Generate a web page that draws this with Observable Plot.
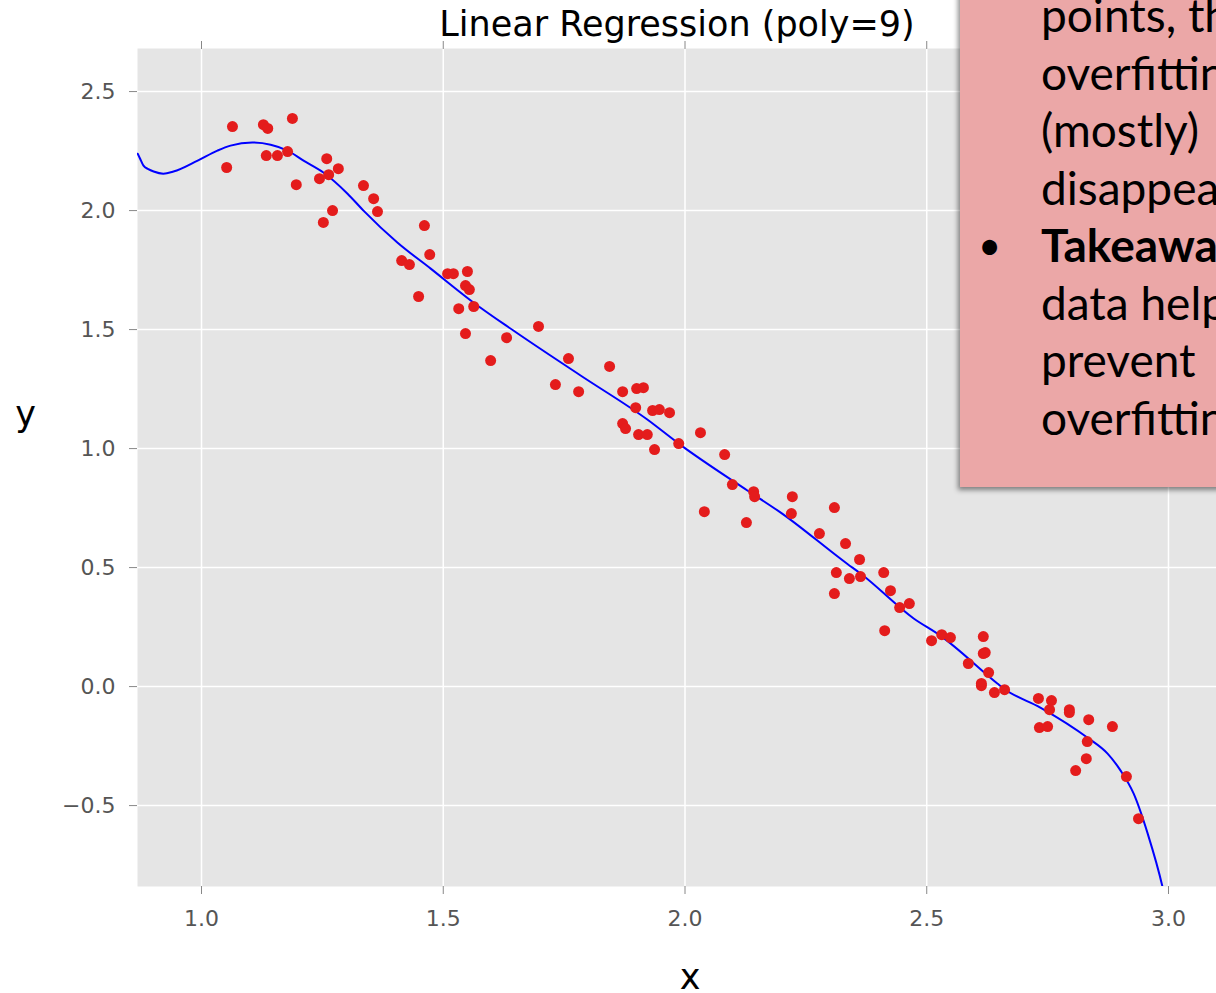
<!DOCTYPE html>
<html>
<head>
<meta charset="utf-8">
<script src="https://cdn.jsdelivr.net/npm/d3@7"></script>
<script src="https://cdn.jsdelivr.net/npm/@observablehq/plot@0.6"></script>
<style>
  html, body { margin: 0; padding: 0; background: #fff; overflow: hidden; }
  #wrap { position: relative; width: 1216px; height: 993px; overflow: hidden; }
  #note {
    position: absolute; left: 960px; top: -60px; width: 320px; height: 547px;
    background: #eba7a7; box-shadow: -2px 3px 5px rgba(0,0,0,0.45);
    font-family: Lato, "Noto Sans", sans-serif; font-size: 46px; color: #000;
  }
  #note .line { position: absolute; left: 81px; white-space: nowrap; }
  #note .bullet { position: absolute; left: 18px; width: 20px; text-align: center; font-size: 40px; white-space: nowrap; }
</style>
</head>
<body>
<div id="wrap"></div>
<script>
// Observed samples
const pointX = [1.052,1.064,1.128,1.137,1.134,1.157,1.188,1.178,1.196,1.244,1.259,1.263,1.283,1.252,1.271,1.335,1.356,1.364,1.461,1.414,
  1.430,1.472,1.449,1.509,1.521,1.550,1.546,1.554,1.532,1.563,1.546,1.598,1.631,1.697,1.732,1.759,1.780,1.844,1.871,1.871,
  1.877,1.900,1.914,1.898,1.904,1.922,1.933,1.947,1.968,1.937,1.987,2.032,2.082,2.040,2.098,2.142,2.144,2.127,2.222,2.220,
  2.278,2.309,2.332,2.361,2.313,2.340,2.363,2.309,2.411,2.425,2.413,2.444,2.464,2.510,2.531,2.549,2.586,2.617,2.617,2.621,
  2.628,2.613,2.613,2.640,2.661,2.731,2.758,2.733,2.750,2.754,2.795,2.795,2.835,2.832,2.830,2.808,2.884,2.913,2.938];
const pointY = [2.181,2.353,2.361,2.345,2.231,2.231,2.387,2.248,2.109,2.134,2.218,2.151,2.176,1.950,2.000,2.105,2.050,1.996,1.937,1.790,
  1.773,1.815,1.639,1.735,1.735,1.744,1.685,1.668,1.588,1.597,1.483,1.370,1.466,1.513,1.269,1.378,1.239,1.345,1.239,1.105,
  1.084,1.252,1.256,1.172,1.059,1.059,1.160,1.164,1.151,0.996,1.021,1.067,0.975,0.735,0.849,0.819,0.798,0.689,0.798,0.727,
  0.643,0.752,0.601,0.534,0.479,0.454,0.462,0.391,0.479,0.403,0.235,0.332,0.349,0.193,0.218,0.206,0.097,0.210,0.139,0.143,
  0.059,0.013,0.004,-0.025,-0.013,-0.050,-0.059,-0.172,-0.168,-0.097,-0.097,-0.109,-0.139,-0.231,-0.303,-0.353,-0.168,-0.378,-0.555];

// Degree-9 polynomial fit, sampled along x
const fitX = [0.868,0.873,0.880,0.890,0.901,0.921,0.942,0.992,1.033,1.060,1.105,1.143,1.178,1.211,1.252,1.302,1.335,1.405,1.474,1.563,1.645,1.784,
  1.922,1.987,2.129,2.198,2.336,2.363,2.473,2.528,2.646,2.659,2.735,2.832,2.874,2.901,2.928,2.957,2.988,3.000];
const fitY = [2.239,2.218,2.189,2.174,2.164,2.155,2.164,2.210,2.252,2.273,2.286,2.277,2.252,2.210,2.160,2.071,2.000,1.866,1.756,1.613,1.496,1.307,
  1.122,1.021,0.824,0.731,0.515,0.475,0.286,0.214,0.013,-0.008,-0.088,-0.214,-0.282,-0.353,-0.450,-0.618,-0.845,-0.960];

const xTicks = [1.0, 1.5, 2.0, 2.5, 3.0];
const yTicks = [-0.5, 0.0, 0.5, 1.0, 1.5, 2.0, 2.5];
const titleText = "Linear Regression (poly=9)";
const xLabel = "x";
const yLabel = "y";
const noteLines = ["points, the", "overfitting", "(mostly)", "disappears"];
const takeawayHead = "Takeaway:";
const takeawayLines = ["data helps", "prevent", "overfitting"];

const points = pointX.map((x, i) => ({x, y: pointY[i]}));
const fit = fitX.map((x, i) => ({x, y: fitY[i]}));
const fmt = d3.format(".1f");

const chart = Plot.plot({
  width: 1216,
  height: 993,
  marginLeft: 137,
  marginRight: 0,
  marginTop: 48,
  marginBottom: 107,
  style: {fontFamily: "DejaVu Sans", background: "#fff"},
  x: {domain: [0.8676, 3.0993], label: null},
  y: {domain: [-0.840, 2.681], label: null},
  marks: [
    Plot.frame({fill: "#e5e5e5", stroke: null}),
    Plot.gridX(xTicks, {stroke: "#fff", strokeOpacity: 1, strokeWidth: 1.5}),
    Plot.gridY(yTicks, {stroke: "#fff", strokeOpacity: 1, strokeWidth: 1.5}),
    Plot.axisX(xTicks, {anchor: "bottom", tickSize: 8, tickPadding: 16, fontSize: 22, fill: "#555", stroke: "#888", tickFormat: fmt, label: null}),
    Plot.axisX(xTicks, {anchor: "top", tickSize: 8, stroke: "#888", tickFormat: () => "", label: null}),
    Plot.axisY(yTicks, {anchor: "left", tickSize: 8, tickPadding: 14, fontSize: 22, fill: "#555", stroke: "#888", tickFormat: fmt, label: null}),
    Plot.line(fit, {x: "x", y: "y", stroke: "#0000ff", strokeWidth: 2, curve: "monotone-x", clip: true}),
    Plot.dot(points, {x: "x", y: "y", r: 5.5, fill: "#e41c1c", stroke: null}),
    Plot.text([titleText], {frameAnchor: "top", dy: -24, lineAnchor: "middle", fontSize: 35, fill: "#000"}),
    Plot.text([xLabel], {frameAnchor: "bottom", dx: 13, dy: 91, lineAnchor: "middle", fontSize: 35, fill: "#000"}),
    Plot.text([yLabel], {frameAnchor: "left", dx: -112, dy: -53, lineAnchor: "middle", fontSize: 35, fill: "#000", textAnchor: "middle"})
  ]
});

const wrap = document.getElementById("wrap");
wrap.appendChild(chart);

// Annotation panel on the right
const note = document.createElement("div");
note.id = "note";
const lineStep = 57.5;
const firstBaseline = 33 + 60; // relative to the panel top
const addLine = (text, i, cls, bold) => {
  const el = document.createElement("div");
  el.className = cls;
  el.textContent = text;
  el.style.top = (firstBaseline + i * lineStep - 47) + "px";
  el.style.lineHeight = "58px";
  if (bold) el.style.fontWeight = "bold";
  note.appendChild(el);
};
noteLines.forEach((t, i) => addLine(t, i, "line", false));
addLine("•", noteLines.length, "bullet", false);
addLine(takeawayHead, noteLines.length, "line", true);
takeawayLines.forEach((t, i) => addLine(t, noteLines.length + 1 + i, "line", false));
wrap.appendChild(note);
</script>
</body>
</html>
